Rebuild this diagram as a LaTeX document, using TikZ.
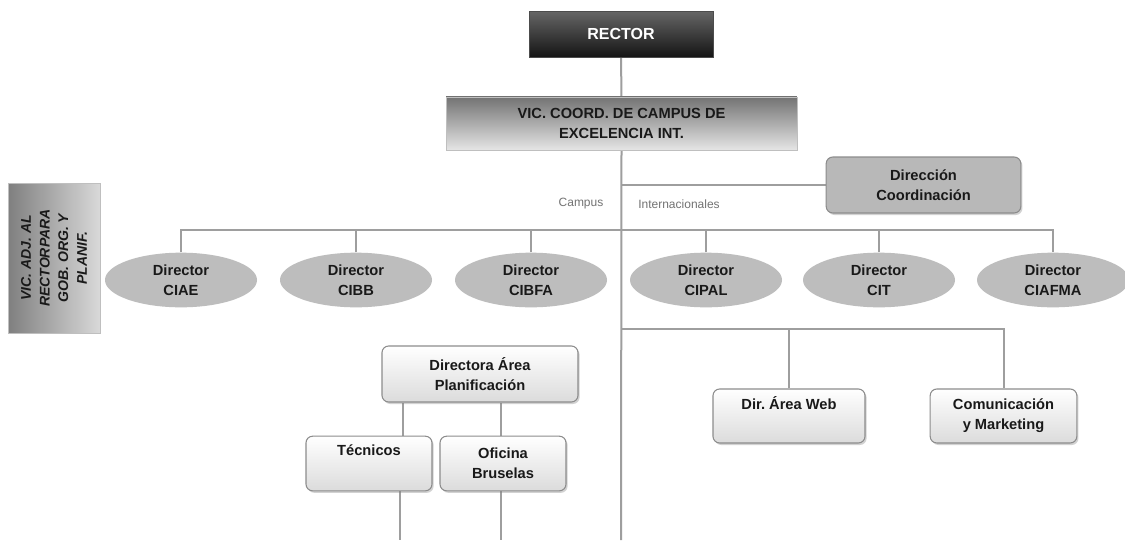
\documentclass[tikz,border=0pt]{standalone}
\usepackage{fontspec}
\setmainfont{Liberation Sans}
\usetikzlibrary{shapes.geometric,shadows,backgrounds,calc}
\begin{document}
\begin{tikzpicture}[x=0.75pt,y=-0.75pt,
  conn/.style={draw=black!38, line width=1.5pt},
  lbl/.style={font=\fontsize{11}{15}\selectfont\bfseries, align=center, text=black!90},
  rectorbox/.style={lbl, text=white, font=\fontsize{12}{15}\selectfont\bfseries, top color=black!60, bottom color=black!92, draw=black!70, minimum width=138pt, minimum height=34.5pt},
  vicbox/.style={lbl, top color=black!55, bottom color=black!10, draw=black!25, minimum width=263pt, minimum height=40pt},
  adjbox/.style={lbl, left color=black!50, right color=black!15, draw=black!25, minimum width=69pt, minimum height=112.5pt},
  darkround/.style={lbl, rounded corners=5pt, fill=black!28, draw=black!45, line width=0.8pt, drop shadow={opacity=0.35, shadow xshift=1.2pt, shadow yshift=-1.5pt}},
  lightround/.style={lbl, rounded corners=5pt, top color=white, bottom color=black!14, draw=black!45, line width=0.8pt, drop shadow={opacity=0.35, shadow xshift=1.2pt, shadow yshift=-1.5pt}},
  direll/.style={lbl, ellipse, fill=black!26, minimum width=114pt, minimum height=41pt, inner sep=0pt},
  small/.style={font=\fontsize{9}{11}\selectfont, text=black!55}
]
\useasboundingbox (0,0) rectangle (1125,540);

% nodes
\node[rectorbox] (rector) at (621,34) {RECTOR};
\node[vicbox] (vic) at (621.5,123.5) {VIC. COORD. DE CAMPUS DE\\EXCELENCIA INT.};
\node[darkround, minimum width=146pt, minimum height=42pt] (dc) at (923.5,185) {Dirección\\Coordinación};
\node[adjbox] (adj) at (54,258) {};
\node[rotate=90, font=\fontsize{10.5}{14}\selectfont\bfseries\itshape, align=center, text=black!90] (adjtxt) at (adj.center) {VIC. ADJ. AL\\RECTORPARA\\GOB. ORG. Y\\PLANIF.};

\node[small] (campus) at (581,204) {Campus};
\node[small] (intern) at (679,204) {Internacionales};

\node[direll] (e1) at (181,280) {Director\\CIAE};
\node[direll] (e2) at (356,280) {Director\\CIBB};
\node[direll] (e3) at (531,280) {Director\\CIBFA};
\node[direll] (e4) at (706,280) {Director\\CIPAL};
\node[direll] (e5) at (879,280) {Director\\CIT};
\node[direll] (e6) at (1053,280) {Director\\CIAFMA};

\node[lightround, minimum width=147pt, minimum height=42pt] (plan) at (480,374) {Directora Área\\Planificación};
\node[lightround, minimum width=94.5pt, minimum height=41pt] (tec) at (369,463.5) {Técnicos\\\strut};
\node[lightround, minimum width=94.5pt, minimum height=41pt] (ofi) at (503,463.5) {Oficina\\Bruselas};
\node[lightround, minimum width=114pt, minimum height=40.5pt] (web) at (789,416) {Dir.\ Área Web\\\strut};
\node[lightround, minimum width=110pt, minimum height=40.5pt] (com) at (1003.5,416) {Comunicación\\y Marketing};

% coordinates
\coordinate (mainbot) at (621,540);
\coordinate (bus) at (621,230);
\coordinate (bus2) at (621,329);
\coordinate (tecbot) at (400,540);
\coordinate (ofibot) at (501,540);

\begin{scope}[on background layer]
\fill[white] (0,0) rectangle (1125,540);
\draw[conn] (rector.south) -- (vic.north);
\draw[conn] (vic.south) -- (mainbot);
\draw[conn] (dc.west) -- (dc.west -| vic.south);
\draw[conn] (e1.north) -- (e1.north |- bus) -- (e6.north |- bus) -- (e6.north);
\foreach \e in {e2,e3,e4,e5} \draw[conn] (\e.north) -- (\e.north |- bus);
\draw[conn] (bus2) -- (com.north |- bus2) -- (com.north);
\draw[conn] (web.north) -- (web.north |- bus2);
\draw[conn] (tec.north -| 403,0) -- (plan.south -| 403,0);
\draw[conn] (ofi.north -| 501,0) -- (plan.south -| 501,0);
\draw[conn] (tec.south -| tecbot) -- (tecbot);
\draw[conn] (ofi.south -| ofibot) -- (ofibot);
\end{scope}
\end{tikzpicture}
\end{document}
